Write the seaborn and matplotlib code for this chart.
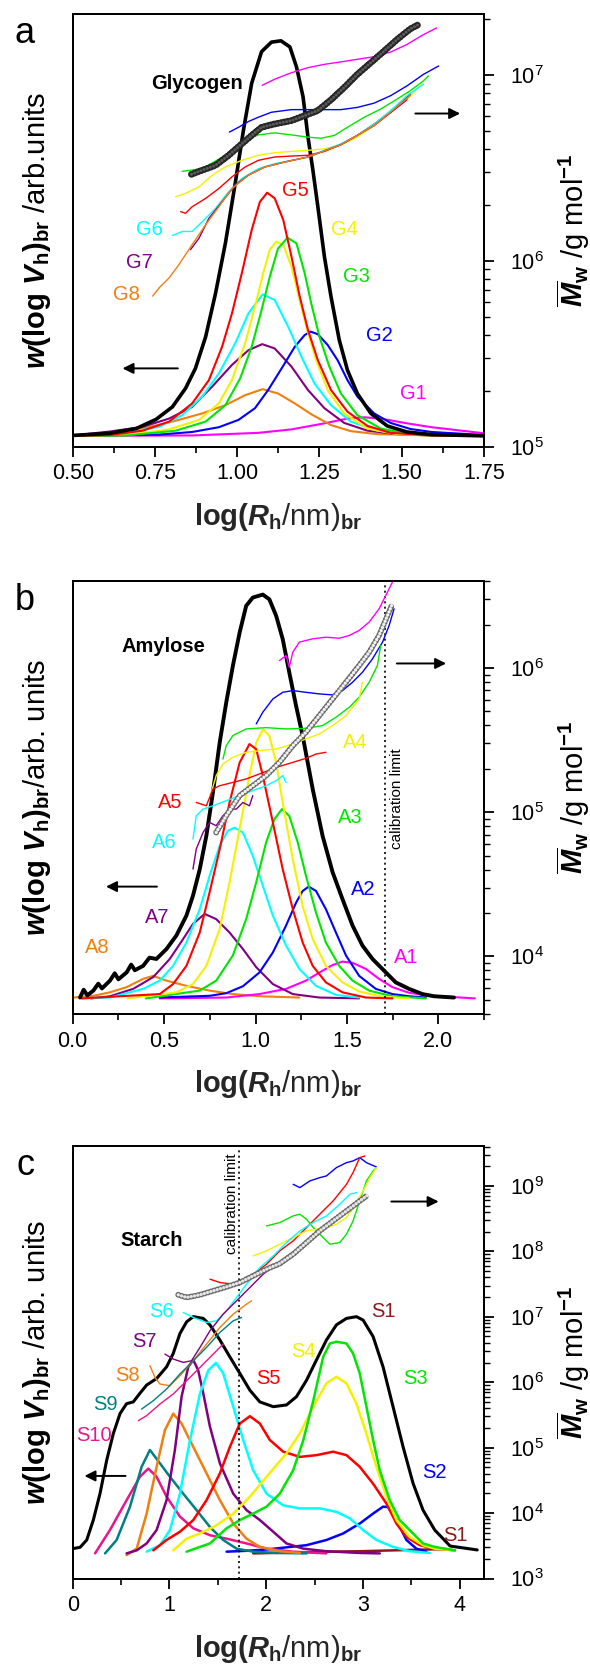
import numpy as np
import matplotlib
matplotlib.use("Agg")
import matplotlib.pyplot as plt
import seaborn as sns
from matplotlib.ticker import MultipleLocator, LogLocator, NullFormatter, FormatStrFormatter

# ---------------- panel a : glycogen ----------------
a_black_x = [0.500, 0.612, 0.693, 0.753, 0.803, 0.843, 0.873, 0.904, 0.934, 0.964, 0.994, 1.019, 1.044, 1.074, 1.104,
             1.133, 1.160, 1.180, 1.200, 1.215, 1.230, 1.245, 1.265, 1.285, 1.310, 1.335, 1.365, 1.406, 1.456, 1.516, 1.591, 1.750]
a_black_v = [2.6, 3.1, 4.2, 6.3, 9.2, 13.5, 18.1, 25.4, 35.4, 47.0, 60.9, 73.2, 84.0, 91.3, 93.5,
             93.8, 92.4, 87.8, 80.9, 71.6, 63.9, 55.5, 43.9, 34.7, 24.7, 17.7, 12.3, 7.7, 4.8, 3.4, 2.8, 2.5]
a_g5_x = [0.500, 0.612, 0.713, 0.793, 0.863, 0.914, 0.954, 0.984, 1.014, 1.044, 1.069, 1.091, 1.114, 1.140, 1.165, 1.190,
          1.215, 1.245, 1.285, 1.335, 1.396, 1.466, 1.591, 1.750]
a_g5_v = [2.5, 2.7, 3.7, 5.8, 10.0, 15.4, 23.1, 30.8, 40.1, 50.1, 56.6, 58.7, 57.4, 52.4, 43.9, 34.7,
          27.0, 20.0, 13.1, 8.1, 4.8, 3.2, 2.6, 2.5]
a_g4_x = [0.500, 0.663, 0.793, 0.884, 0.944, 0.984, 1.024, 1.054, 1.079, 1.099, 1.119, 1.140, 1.165, 1.185, 1.210, 1.240,
          1.275, 1.325, 1.396, 1.486, 1.591, 1.750]
a_g4_v = [2.5, 2.7, 4.0, 6.2, 10.0, 15.4, 23.9, 32.4, 40.1, 45.5, 47.4, 46.6, 41.6, 35.4, 27.7, 20.0,
          13.1, 7.7, 4.2, 2.9, 2.6, 2.5]
a_g3_x = [0.500, 0.663, 0.813, 0.904, 0.964, 1.009, 1.044, 1.074, 1.099, 1.124, 1.153, 1.180, 1.205, 1.225, 1.250, 1.280,
          1.315, 1.365, 1.436, 1.526, 1.591, 1.750]
a_g3_v = [2.5, 2.6, 3.7, 5.8, 9.6, 15.8, 23.1, 31.6, 39.3, 45.8, 48.3, 47.0, 40.1, 33.1, 25.4, 18.5,
          12.3, 7.3, 4.2, 2.9, 2.6, 2.5]
a_g6_x = [0.500, 0.663, 0.763, 0.833, 0.894, 0.944, 0.994, 1.034, 1.077, 1.114, 1.155, 1.195, 1.235, 1.285, 1.345, 1.426,
          1.526, 1.591, 1.750]
a_g6_v = [2.6, 3.2, 4.6, 7.3, 11.6, 16.9, 23.9, 30.8, 35.2, 33.9, 27.7, 20.8, 14.6, 9.6, 5.8, 3.7, 2.9, 2.6, 2.5]
a_g7_x = [0.500, 0.612, 0.713, 0.793, 0.863, 0.924, 0.984, 1.034, 1.076, 1.114, 1.165, 1.215, 1.265, 1.325, 1.396, 1.486,
          1.591, 1.750]
a_g7_v = [2.6, 3.5, 4.6, 6.5, 9.2, 13.9, 18.9, 22.3, 23.7, 22.7, 18.5, 13.1, 8.9, 5.5, 3.7, 2.9, 2.6, 2.5]
a_g8_x = [0.500, 0.612, 0.713, 0.813, 0.894, 0.964, 1.024, 1.077, 1.124, 1.175, 1.225, 1.285, 1.345, 1.426, 1.591, 1.750]
a_g8_v = [2.6, 3.2, 4.2, 6.0, 7.7, 9.6, 11.9, 13.3, 12.3, 10.0, 7.5, 5.0, 3.6, 2.9, 2.6, 2.5]
a_g2_x = [0.500, 0.763, 0.863, 0.944, 1.004, 1.054, 1.094, 1.135, 1.175, 1.205, 1.223, 1.245, 1.275, 1.305, 1.335, 1.365,
          1.416, 1.466, 1.526, 1.591, 1.750]
a_g2_v = [2.5, 2.8, 3.4, 4.5, 6.2, 8.9, 13.1, 18.1, 23.1, 25.8, 26.6, 26.0, 23.5, 20.0, 15.4, 11.6,
          7.7, 5.5, 4.1, 3.4, 2.7]
a_g1_x = [0.500, 0.863, 1.064, 1.165, 1.265, 1.335, 1.386, 1.436, 1.516, 1.591, 1.750]
a_g1_v = [2.5, 2.6, 3.2, 4.0, 5.4, 6.5, 6.8, 6.5, 5.4, 4.5, 3.1]

# Mw traces (log10 of g/mol)
a_mw_all_x = [0.861, 0.894, 0.934, 0.974, 1.014, 1.049, 1.074, 1.114, 1.165, 1.205, 1.245, 1.285, 1.325, 1.365, 1.406,
              1.446, 1.486, 1.526, 1.551]
a_mw_all = [6.467, 6.489, 6.515, 6.569, 6.631, 6.684, 6.720, 6.738, 6.756, 6.783, 6.810, 6.868, 6.934, 7.005, 7.068,
            7.130, 7.193, 7.250, 7.273]
a_mw1_x = [1.076, 1.114, 1.165, 1.215, 1.265, 1.315, 1.365, 1.416, 1.466, 1.516, 1.566, 1.606]
a_mw1 = [6.946, 6.979, 7.014, 7.041, 7.059, 7.072, 7.086, 7.100, 7.125, 7.166, 7.219, 7.255]
a_mw2_x = [0.976, 1.004, 1.034, 1.064, 1.104, 1.165, 1.225, 1.265, 1.315, 1.365, 1.416, 1.466, 1.516, 1.566, 1.612]
a_mw2 = [6.694, 6.720, 6.751, 6.774, 6.801, 6.815, 6.815, 6.815, 6.815, 6.827, 6.850, 6.890, 6.943, 7.005, 7.050]
a_mw3_x = [0.833, 0.894, 0.964, 1.024, 1.064, 1.114, 1.165, 1.215, 1.255, 1.295, 1.335, 1.386, 1.436, 1.486, 1.526,
           1.566, 1.581]
a_mw3 = [6.483, 6.497, 6.569, 6.649, 6.679, 6.690, 6.679, 6.667, 6.661, 6.676, 6.720, 6.774, 6.818, 6.872, 6.917,
         6.970, 6.997]
a_mw4_x = [0.813, 0.843, 0.884, 0.924, 0.964, 1.014, 1.064, 1.114, 1.165, 1.215, 1.265, 1.315, 1.365, 1.416, 1.466,
           1.516, 1.561]
a_mw4 = [6.346, 6.364, 6.399, 6.462, 6.506, 6.542, 6.569, 6.583, 6.590, 6.596, 6.604, 6.626, 6.667, 6.729, 6.801,
         6.872, 6.952]
a_mw5_x = [0.828, 0.843, 0.863, 0.904, 0.944, 0.984, 1.024, 1.064, 1.114, 1.165, 1.215, 1.265, 1.315, 1.365, 1.416,
           1.466, 1.526]
a_mw5 = [6.266, 6.257, 6.292, 6.337, 6.390, 6.453, 6.506, 6.542, 6.560, 6.565, 6.569, 6.590, 6.626, 6.676, 6.738,
         6.801, 6.898]
a_mw6_x = [0.803, 0.833, 0.863, 0.894, 0.934, 0.974, 1.014, 1.064, 1.114, 1.165, 1.215, 1.265, 1.315, 1.365, 1.416,
           1.466, 1.516, 1.566]
a_mw6 = [6.137, 6.159, 6.159, 6.212, 6.283, 6.373, 6.444, 6.497, 6.524, 6.542, 6.560, 6.596, 6.631, 6.676, 6.738,
         6.810, 6.890, 6.952]
a_mw7_x = [0.858, 0.884, 0.914, 0.954, 0.994, 1.034, 1.084, 1.145, 1.215, 1.315, 1.416, 1.516]
a_mw7 = [6.061, 6.123, 6.230, 6.319, 6.409, 6.462, 6.506, 6.533, 6.560, 6.626, 6.729, 6.868]
a_mw8_x = [0.743, 0.763, 0.793, 0.823, 0.863, 0.904, 0.944, 0.984, 1.034, 1.084, 1.145, 1.215, 1.315, 1.416, 1.526]
a_mw8 = [5.811, 5.856, 5.909, 5.981, 6.088, 6.195, 6.292, 6.390, 6.462, 6.506, 6.533, 6.560, 6.626, 6.729, 6.890]

# ---------------- panel b : amylose ----------------
b_black_x = [0.040, 0.060, 0.080, 0.113, 0.140, 0.160, 0.204, 0.230, 0.250, 0.295, 0.320, 0.340, 0.385, 0.420, 0.458,
             0.513, 0.567, 0.622, 0.658, 0.695, 0.731, 0.767, 0.804, 0.840, 0.876, 0.913, 0.949, 0.985, 1.040, 1.076,
             1.113, 1.149, 1.185, 1.222, 1.258, 1.313, 1.367, 1.422, 1.476, 1.531, 1.585, 1.640, 1.713, 1.767, 1.840,
             1.913, 1.976, 2.086]
b_black_v = [3.8, 5.6, 4.3, 5.4, 7.0, 5.9, 7.7, 9.4, 8.0, 9.6, 11.4, 10.1, 11.1, 13.0, 12.7,
             15.0, 18.1, 22.7, 27.3, 33.4, 41.1, 51.1, 62.6, 71.9, 80.3, 88.0, 94.2, 96.1, 96.8, 95.7,
             91.9, 86.5, 78.8, 71.1, 64.2, 51.9, 41.1, 32.7, 26.5, 20.4, 15.8, 12.7, 9.6, 7.3, 5.8,
             4.6, 4.1, 3.8]
b_a5_x = [0.050, 0.476, 0.549, 0.622, 0.695, 0.749, 0.804, 0.858, 0.913, 0.967, 1.004, 1.040, 1.095, 1.149, 1.204,
          1.258, 1.313, 1.385, 1.476, 1.604, 1.749]
b_a5_v = [3.6, 4.6, 6.9, 11.1, 18.8, 28.1, 38.0, 48.8, 58.0, 62.3, 61.1, 55.0, 44.2, 33.4, 24.2,
          16.5, 11.1, 7.3, 5.0, 3.8, 3.6]
b_a4_x = [0.300, 0.567, 0.658, 0.731, 0.804, 0.858, 0.913, 0.967, 1.004, 1.040, 1.076, 1.113, 1.149, 1.204, 1.258,
          1.313, 1.385, 1.476, 1.567, 1.695, 1.840]
b_a4_v = [3.6, 5.0, 6.9, 11.1, 19.6, 30.4, 42.7, 55.0, 62.6, 65.7, 64.2, 58.0, 48.8, 35.7, 24.9,
          17.3, 11.1, 7.3, 5.2, 4.0, 3.6]
b_a3_x = [0.400, 0.695, 0.785, 0.876, 0.949, 1.004, 1.058, 1.104, 1.145, 1.185, 1.231, 1.276, 1.331, 1.385, 1.458,
          1.531, 1.622, 1.749, 1.931]
b_a3_v = [3.6, 5.4, 7.7, 13.5, 21.9, 30.4, 39.6, 45.0, 47.3, 45.7, 39.6, 31.9, 23.4, 16.5, 11.1,
          7.7, 5.4, 4.1, 3.6]
b_a6_x = [0.050, 0.204, 0.385, 0.476, 0.549, 0.622, 0.695, 0.749, 0.804, 0.849, 0.885, 0.931, 0.985, 1.040, 1.095,
          1.167, 1.240, 1.331, 1.440, 1.567]
b_a6_v = [3.6, 3.8, 5.8, 7.7, 11.1, 16.5, 24.2, 31.9, 38.8, 42.3, 43.0, 41.9, 36.5, 29.6, 22.7,
          15.8, 10.4, 6.5, 4.4, 3.8]
b_a7_x = [0.100, 0.204, 0.331, 0.440, 0.531, 0.604, 0.658, 0.722, 0.785, 0.858, 0.931, 1.004, 1.095, 1.204, 1.349, 1.567]
b_a7_v = [3.6, 4.1, 5.8, 8.5, 12.7, 17.3, 20.8, 23.1, 21.9, 18.8, 15.0, 10.8, 6.9, 4.6, 3.8, 3.6]
b_a8_x = [0.004, 0.113, 0.204, 0.295, 0.385, 0.440, 0.513, 0.622, 0.749, 0.876, 1.022, 1.240]
b_a8_v = [3.8, 4.2, 5.0, 6.2, 8.1, 8.8, 7.7, 6.5, 5.4, 4.6, 4.1, 3.8]
b_a2_x = [0.476, 0.749, 0.840, 0.931, 1.022, 1.095, 1.167, 1.222, 1.258, 1.291, 1.331, 1.385, 1.440, 1.495, 1.567,
          1.658, 1.749, 1.840, 1.931]
b_a2_v = [3.8, 4.2, 4.8, 6.4, 9.6, 14.2, 20.4, 25.7, 28.4, 29.4, 28.4, 24.2, 18.8, 13.5, 8.8,
          5.8, 4.6, 4.1, 3.8]
b_a1_x = [0.476, 0.840, 1.022, 1.167, 1.276, 1.367, 1.422, 1.476, 1.531, 1.604, 1.676, 1.749, 1.840, 1.931, 2.200]
b_a1_v = [3.6, 3.8, 4.6, 5.8, 7.7, 10.0, 11.3, 12.1, 11.8, 10.4, 8.1, 6.2, 4.9, 4.3, 3.6]

b_mw_all_x = [0.785, 0.840, 0.913, 0.985, 1.058, 1.131, 1.204, 1.276, 1.349, 1.422, 1.495, 1.567, 1.622, 1.676, 1.722, 1.749]
b_mw_all = [4.860, 4.976, 5.115, 5.184, 5.254, 5.346, 5.462, 5.555, 5.670, 5.786, 5.902, 6.018, 6.110, 6.226, 6.365, 6.446]
b_mw1_x = [1.131, 1.167, 1.185, 1.204, 1.240, 1.313, 1.385, 1.458, 1.513, 1.567, 1.622, 1.676, 1.731, 1.749]
b_mw1 = [6.052, 6.087, 6.006, 6.110, 6.180, 6.203, 6.214, 6.207, 6.226, 6.261, 6.319, 6.411, 6.550, 6.596]
b_mw2_x = [1.004, 1.040, 1.095, 1.149, 1.204, 1.276, 1.349, 1.422, 1.476, 1.531, 1.585, 1.640, 1.695, 1.731, 1.758]
b_mw2 = [5.613, 5.694, 5.786, 5.832, 5.844, 5.832, 5.821, 5.814, 5.844, 5.902, 5.971, 6.064, 6.180, 6.295, 6.411]
b_mw3_x = [0.822, 0.840, 0.876, 0.949, 1.058, 1.167, 1.276, 1.367, 1.440, 1.513, 1.567, 1.622, 1.667, 1.685]
b_mw3 = [5.369, 5.462, 5.532, 5.578, 5.587, 5.578, 5.582, 5.601, 5.659, 5.728, 5.798, 5.902, 6.018, 6.157]
b_mw4_x = [0.758, 0.785, 0.822, 0.876, 0.949, 1.022, 1.113, 1.204, 1.276, 1.349, 1.422, 1.495, 1.567, 1.585]
b_mw4 = [5.138, 5.254, 5.335, 5.381, 5.416, 5.427, 5.439, 5.474, 5.509, 5.543, 5.601, 5.670, 5.786, 5.902]
b_mw5_x = [0.676, 0.731, 0.767, 0.804, 0.876, 0.949, 1.022, 1.113, 1.204, 1.276, 1.331, 1.385]
b_mw5 = [5.068, 5.045, 5.161, 5.184, 5.207, 5.231, 5.266, 5.311, 5.346, 5.374, 5.404, 5.416]
b_mw6_x = [0.658, 0.676, 0.713, 0.767, 0.840, 0.913, 0.985, 1.058, 1.113, 1.149, 1.167]
b_mw6 = [4.814, 4.976, 5.022, 5.045, 5.080, 5.115, 5.150, 5.184, 5.219, 5.254, 5.207]
b_mw7_x = [0.658, 0.676, 0.713, 0.749, 0.785, 0.822, 0.858, 0.895, 0.931, 0.967, 0.985]
b_mw7 = [4.606, 4.745, 4.860, 4.929, 4.907, 4.976, 5.022, 5.022, 5.068, 5.045, 5.115]

# ---------------- panel c : starch ----------------
c_black_x = [0.000, 0.076, 0.145, 0.213, 0.282, 0.351, 0.420, 0.489, 0.557, 0.626, 0.695, 0.764, 0.867, 0.970, 1.039,
             1.108, 1.177, 1.246, 1.349, 1.418, 1.521, 1.624, 1.727, 1.831, 1.934, 2.072, 2.209, 2.312, 2.416, 2.519,
             2.622, 2.725, 2.829, 2.932, 3.001, 3.104, 3.207, 3.310, 3.414, 3.517, 3.620, 3.741, 3.900, 4.180]
c_black_v = [6.9, 7.2, 8.9, 13.5, 19.6, 27.3, 33.5, 38.1, 40.4, 40.8, 42.8, 44.7, 46.2, 48.9, 52.0,
             56.6, 59.3, 60.5, 60.1, 58.6, 55.1, 51.2, 47.4, 43.5, 40.8, 39.7, 40.1, 42.0, 45.8, 50.5,
             55.1, 58.6, 60.1, 60.5, 59.7, 55.9, 48.9, 39.7, 30.4, 22.0, 15.8, 11.2, 7.5, 6.6]
c_s3_x = [1.177, 1.418, 1.590, 1.727, 1.865, 2.003, 2.140, 2.278, 2.381, 2.485, 2.588, 2.657, 2.725, 2.829, 2.897,
          2.966, 3.035, 3.104, 3.173, 3.276, 3.379, 3.517, 3.620, 3.741, 3.950]
c_s3_v = [6.2, 8.1, 11.6, 13.5, 15.0, 16.6, 19.6, 25.0, 31.8, 41.0, 51.2, 54.3, 54.7, 54.3, 52.0,
          47.4, 39.7, 32.0, 25.0, 18.1, 13.5, 10.4, 8.1, 7.3, 6.5]
c_s4_x = [1.039, 1.177, 1.315, 1.487, 1.659, 1.831, 2.003, 2.209, 2.347, 2.485, 2.622, 2.725, 2.829, 2.932, 3.035,
          3.138, 3.242, 3.345, 3.482, 3.620, 3.741, 3.950]
c_s4_v = [6.5, 9.2, 10.4, 12.3, 15.0, 18.9, 23.5, 28.9, 33.5, 39.7, 45.1, 46.6, 45.1, 40.4, 33.5,
          25.8, 18.9, 13.5, 9.6, 7.7, 6.9, 6.5]
c_s5_x = [0.833, 0.970, 1.108, 1.246, 1.383, 1.521, 1.624, 1.727, 1.831, 1.934, 2.037, 2.175, 2.347, 2.519, 2.691,
          2.829, 2.966, 3.104, 3.242, 3.345, 3.448, 3.586, 3.741, 3.950]
c_s5_v = [6.5, 8.9, 10.8, 13.5, 18.1, 24.3, 30.4, 35.8, 37.5, 35.8, 32.0, 29.3, 28.1, 28.5, 29.3,
          28.5, 25.8, 21.9, 17.3, 12.7, 9.6, 7.7, 6.9, 6.5]
c_s6_x = [0.764, 0.902, 1.005, 1.108, 1.211, 1.315, 1.401, 1.480, 1.555, 1.659, 1.762, 1.865, 2.003, 2.175, 2.347,
          2.553, 2.725, 2.863, 3.001, 3.138, 3.310, 3.482, 3.689]
c_s6_v = [6.2, 7.7, 11.2, 19.6, 31.9, 42.7, 48.1, 49.8, 47.4, 39.7, 32.0, 25.0, 19.6, 16.9, 16.2,
          16.2, 15.4, 13.9, 11.2, 8.9, 7.3, 6.3, 5.9]
c_s7_x = [0.557, 0.661, 0.764, 0.867, 0.970, 1.056, 1.125, 1.194, 1.246, 1.297, 1.349, 1.418, 1.521, 1.659, 1.796,
          1.934, 2.072, 2.209, 2.381, 2.622, 2.966, 3.173]
c_s7_v = [5.8, 6.5, 8.1, 11.2, 18.1, 29.7, 42.0, 48.9, 50.5, 48.1, 42.8, 35.1, 26.6, 19.6, 15.8,
          13.5, 10.8, 8.1, 6.9, 6.3, 5.9, 5.8]
c_s8_x = [0.557, 0.661, 0.764, 0.867, 0.953, 1.039, 1.125, 1.246, 1.383, 1.521, 1.659, 1.796, 1.934, 2.140, 2.347]
c_s8_v = [5.4, 6.9, 15.0, 25.8, 34.3, 38.1, 35.8, 30.4, 24.3, 18.1, 12.7, 9.2, 7.3, 6.3, 5.9]
c_s9_x = [0.334, 0.454, 0.592, 0.712, 0.798, 0.902, 1.005, 1.142, 1.280, 1.418, 1.555, 1.693, 1.865, 2.106, 2.416]
c_s9_v = [5.8, 8.9, 16.6, 25.8, 29.7, 26.6, 23.5, 19.6, 15.8, 11.9, 8.9, 6.9, 6.2, 5.9, 5.8]
c_s10_x = [0.231, 0.385, 0.557, 0.695, 0.781, 0.867, 0.970, 1.108, 1.246, 1.418, 1.590, 1.796, 2.003, 2.278, 2.622]
c_s10_v = [5.8, 11.2, 18.1, 23.5, 25.4, 23.5, 18.9, 14.3, 11.6, 10.0, 9.2, 8.1, 6.9, 6.2, 5.8]
c_s2_x = [1.590, 1.796, 2.003, 2.209, 2.416, 2.622, 2.794, 2.966, 3.104, 3.207, 3.259, 3.345, 3.448, 3.551, 3.655]
c_s2_v = [6.2, 6.4, 6.7, 7.2, 7.7, 8.9, 10.4, 12.7, 15.0, 16.6, 16.5, 13.5, 8.9, 6.9, 6.2]
c_s1_x = [1.865, 2.278, 2.622, 2.966, 3.310, 3.655, 3.850]
c_s1_v = [5.8, 6.0, 6.2, 6.3, 6.5, 6.7, 6.8]

c_mw_all_x = [1.091, 1.177, 1.315, 1.452, 1.590, 1.727, 1.865, 2.003, 2.140, 2.278, 2.416, 2.553, 2.691, 2.829, 2.966, 3.052]
c_mw_all = [7.336, 7.295, 7.336, 7.397, 7.458, 7.524, 7.626, 7.728, 7.814, 7.957, 8.135, 8.313, 8.466, 8.618, 8.771, 8.863]
c_mw2_x = [2.278, 2.347, 2.450, 2.553, 2.622, 2.725, 2.829, 2.897, 2.966, 3.035, 3.138]
c_mw2 = [9.025, 8.974, 9.076, 9.127, 9.153, 9.280, 9.356, 9.382, 9.433, 9.356, 9.290]
c_mw5_x = [1.418, 1.521, 1.659, 1.745, 1.865, 2.003, 2.140, 2.278, 2.416, 2.553, 2.691, 2.829, 2.897, 2.966, 3.018]
c_mw5 = [7.575, 7.524, 7.499, 7.550, 7.651, 7.804, 8.008, 8.160, 8.364, 8.568, 8.771, 9.025, 9.204, 9.433, 9.458]
c_mw3_x = [2.003, 2.140, 2.278, 2.347, 2.416, 2.485, 2.588, 2.657, 2.760, 2.829, 2.897, 2.966, 3.035, 3.104, 3.138]
c_mw3 = [8.389, 8.440, 8.542, 8.568, 8.491, 8.364, 8.211, 8.109, 8.135, 8.262, 8.466, 8.771, 9.076, 9.229, 9.280]
c_mw4_x = [1.865, 2.003, 2.140, 2.278, 2.416, 2.519, 2.622, 2.725, 2.829, 2.897, 3.001, 3.070, 3.138]
c_mw4 = [7.931, 8.008, 8.109, 8.211, 8.313, 8.338, 8.364, 8.415, 8.517, 8.669, 8.924, 9.127, 9.280]
c_mw6_x = [1.142, 1.246, 1.383, 1.487, 1.590, 1.693, 1.796, 1.934, 2.072, 2.209, 2.347, 2.485, 2.622, 2.760, 2.863, 2.932]
c_mw6 = [7.066, 6.990, 6.913, 6.939, 7.092, 7.295, 7.499, 7.753, 7.931, 8.135, 8.313, 8.440, 8.542, 8.720, 8.873, 8.898]
c_mw7_x = [0.953, 1.039, 1.142, 1.228, 1.315, 1.418, 1.555, 1.693, 1.831, 1.968, 2.106, 2.244, 2.347]
c_mw7 = [6.430, 6.354, 6.303, 6.328, 6.532, 6.786, 7.041, 7.244, 7.448, 7.651, 7.804, 7.957, 8.059]
c_mw8_x = [0.798, 0.850, 0.902, 1.005, 1.108, 1.246, 1.383, 1.521, 1.659, 1.796, 1.848]
c_mw8 = [6.252, 6.074, 5.972, 5.947, 6.099, 6.328, 6.583, 6.837, 7.041, 7.193, 7.244]
c_mw9_x = [0.712, 0.833, 0.970, 1.108, 1.246, 1.383, 1.521, 1.659, 1.745]
c_mw9 = [5.590, 5.718, 5.896, 6.125, 6.328, 6.532, 6.761, 6.939, 6.990]
c_mw10_x = [0.678, 0.764, 0.902, 1.039, 1.177, 1.315, 1.452, 1.555]
c_mw10 = [5.412, 5.489, 5.667, 5.820, 6.023, 6.226, 6.430, 6.583]

# colours
RED, YEL, GRN, CYA = "#ff0000", "#f2f200", "#00e600", "#00ffff"
PUR, ORA, BLU, MAG = "#800080", "#f07f10", "#0000ff", "#ff00ff"
TEAL, PINK, DRED = "#008080", "#e8168a", "#8b1a1a"

sns.set_style("ticks")
plt.rcParams["font.family"] = ["Liberation Sans", "DejaVu Sans"]
plt.rcParams.update({
    "mathtext.fontset": "custom",
    "mathtext.rm": "Liberation Sans:bold",
    "mathtext.bf": "Liberation Sans:bold",
    "mathtext.it": "Liberation Sans:italic:bold",
    "axes.edgecolor": "black",
    "axes.linewidth": 1.4,
    "xtick.color": "black",
    "ytick.color": "black",
    "text.color": "black",
})


def dist(ax, x, v, color, lw=1.5):
    sns.lineplot(x=x, y=v, ax=ax, color=color, lw=lw, sort=False, estimator=None, legend=False)


def mw(ax, x, logm, color, lw=1.0):
    sns.lineplot(x=x, y=np.power(10.0, logm), ax=ax, color=color, lw=lw, sort=False, estimator=None, legend=False)


def chain(ax, x, logm, edge, face, outer=4.3, inner=2.4):
    # overlapping open circles along the averaged Mw trace
    y = np.power(10.0, logm)
    step = 2.4
    ax.plot(x, y, color=edge, lw=outer, ls=(0, (0.01, step / outer)), dash_capstyle="round")
    ax.plot(x, y, color=face, lw=inner, ls=(0, (0.01, step / inner)), dash_capstyle="round")


def frame(ax, ax2, xlim, major, minor, fmt, ylog):
    ax.set_xlim(*xlim)
    ax.set_ylim(0, 100)
    ax.set_yticks([])
    ax.xaxis.set_major_locator(MultipleLocator(major))
    ax.xaxis.set_minor_locator(MultipleLocator(minor))
    ax.xaxis.set_major_formatter(FormatStrFormatter(fmt))
    ax.tick_params(axis="x", which="major", direction="out", length=7, width=1.3, labelsize=15.5, pad=5)
    ax.tick_params(axis="x", which="minor", direction="out", length=4, width=1.2)
    ax2.set_yscale("log")
    ax2.set_ylim(10 ** ylog[0], 10 ** ylog[1])
    ax2.yaxis.set_major_locator(LogLocator(base=10, subs=(1.0,), numticks=20))
    ax2.yaxis.set_minor_locator(LogLocator(base=10, subs=np.arange(2, 10), numticks=20))
    ax2.yaxis.set_minor_formatter(NullFormatter())
    ax2.tick_params(axis="y", which="major", direction="out", length=7, width=1.3, labelsize=15.5, pad=12)
    ax2.tick_params(axis="y", which="minor", direction="out", length=4, width=1.0)
    ax.set_xlabel(r"$\mathrm{log(}R_\mathrm{h}$/nm)$_\mathrm{br}$", fontsize=21, labelpad=12)
    for s in ax.spines.values():
        s.set_visible(True)


def arrow(ax, x0, x1, v):
    ax.annotate("", xy=(x1, v), xytext=(x0, v),
                arrowprops=dict(arrowstyle="-|>", color="black", lw=1.4, mutation_scale=16))


fig = plt.figure(figsize=(5.9, 16.75), dpi=100)
W, H = 590.0, 1675.0
L, R = 72.7, 484.0
tops = [14.0, 580.7, 1145.7]
bots = [446.7, 1014.0, 1578.5]
axes = []
for t, b in zip(tops, bots):
    ax = fig.add_axes([L / W, 1 - b / H, (R - L) / W, (b - t) / H])
    ax2 = ax.twinx()
    axes.append((ax, ax2))

lab = dict(fontsize=14.5, va="center", ha="left")
ylab_l = [r"$w\mathrm{(log}\ V_\mathrm{h})_\mathrm{br}$ /arb.units",
          r"$w\mathrm{(log}\ V_\mathrm{h})_\mathrm{br}$/arb. units",
          r"$w\mathrm{(log}\ V_\mathrm{h})_\mathrm{br}$ /arb. units"]
ylab_r = r"$\overline{M}_\mathrm{w}$ /g mol$^{-1}$"

# panel a
ax, ax2 = axes[0]
for x, v, c in [(a_g1_x, a_g1_v, MAG), (a_g8_x, a_g8_v, ORA), (a_g7_x, a_g7_v, PUR), (a_g2_x, a_g2_v, BLU),
                (a_g6_x, a_g6_v, CYA), (a_g4_x, a_g4_v, YEL), (a_g3_x, a_g3_v, GRN), (a_g5_x, a_g5_v, RED)]:
    dist(ax, x, v, c)
dist(ax, a_black_x, a_black_v, "black", lw=2.6)
for x, m, c in [(a_mw1_x, a_mw1, MAG), (a_mw2_x, a_mw2, BLU), (a_mw3_x, a_mw3, GRN), (a_mw4_x, a_mw4, YEL),
                (a_mw5_x, a_mw5, RED), (a_mw6_x, a_mw6, CYA), (a_mw7_x, a_mw7, PUR), (a_mw8_x, a_mw8, ORA)]:
    mw(ax2, x, m, c)
chain(ax2, a_mw_all_x, a_mw_all, "#262626", "#5a5a5a", outer=5.0, inner=2.2)
frame(ax, ax2, (0.5, 1.75), 0.25, 0.125, "%.2f", (5.0, 7.33))
ax.text(0.738, 84.0, "Glycogen", fontweight="bold", **lab)
for s, x, v, c in [("G5", 1.135, 59.3, RED), ("G4", 1.285, 50.1, YEL), ("G3", 1.320, 39.3, GRN),
                   ("G2", 1.391, 25.6, BLU), ("G1", 1.496, 12.3, MAG), ("G6", 0.693, 50.2, CYA),
                   ("G7", 0.663, 42.5, PUR), ("G8", 0.622, 35.1, ORA)]:
    ax.text(x, v, s, color=c, **lab)
arrow(ax, 0.828, 0.643, 18.1)
arrow(ax, 1.533, 1.686, 77.0)

# panel b
ax, ax2 = axes[1]
for x, v, c in [(b_a8_x, b_a8_v, ORA), (b_a1_x, b_a1_v, MAG), (b_a7_x, b_a7_v, PUR), (b_a2_x, b_a2_v, BLU),
                (b_a6_x, b_a6_v, CYA), (b_a3_x, b_a3_v, GRN), (b_a4_x, b_a4_v, YEL), (b_a5_x, b_a5_v, RED)]:
    dist(ax, x, v, c)
dist(ax, b_black_x, b_black_v, "black", lw=2.8)
ax.axvline(1.71, color="black", lw=1.2, ls=(0, (1.2, 2.0)))
for x, m, c in [(b_mw1_x, b_mw1, MAG), (b_mw2_x, b_mw2, BLU), (b_mw3_x, b_mw3, GRN), (b_mw4_x, b_mw4, YEL),
                (b_mw5_x, b_mw5, RED), (b_mw6_x, b_mw6, CYA), (b_mw7_x, b_mw7, PUR)]:
    mw(ax2, x, m, c)
chain(ax2, b_mw_all_x, b_mw_all, "#6a6a6a", "#f2f2f2")
frame(ax, ax2, (0.0, 2.25), 0.5, 0.25, "%.1f", (3.601, 6.606))
ax.text(0.267, 84.9, "Amylose", fontweight="bold", **lab)
for s, x, v, c in [("A5", 0.467, 48.8, RED), ("A4", 1.476, 62.6, YEL), ("A3", 1.449, 45.3, GRN),
                   ("A6", 0.431, 39.6, CYA), ("A2", 1.522, 28.8, BLU), ("A7", 0.395, 22.3, PUR),
                   ("A8", 0.067, 15.4, ORA), ("A1", 1.758, 13.1, MAG)]:
    ax.text(x, v, s, color=c, **lab)
ax.text(1.776, 49.6, "calibration limit", rotation=90, fontsize=11, ha="center", va="center")
arrow(ax, 0.476, 0.167, 29.4)
arrow(ax, 1.758, 2.058, 80.9)

# panel c
ax, ax2 = axes[2]
for x, v, c in [(c_s1_x, c_s1_v, DRED), (c_s2_x, c_s2_v, BLU), (c_s10_x, c_s10_v, PINK), (c_s9_x, c_s9_v, TEAL),
                (c_s8_x, c_s8_v, ORA), (c_s7_x, c_s7_v, PUR), (c_s6_x, c_s6_v, CYA), (c_s5_x, c_s5_v, RED),
                (c_s4_x, c_s4_v, YEL), (c_s3_x, c_s3_v, GRN)]:
    dist(ax, x, v, c, lw=1.8)
dist(ax, c_black_x, c_black_v, "black", lw=2.2)
ax.axvline(1.717, color="black", lw=1.2, ls=(0, (1.2, 2.0)))
for x, m, c in [(c_mw2_x, c_mw2, BLU), (c_mw5_x, c_mw5, RED), (c_mw3_x, c_mw3, GRN), (c_mw4_x, c_mw4, YEL),
                (c_mw6_x, c_mw6, CYA), (c_mw7_x, c_mw7, PUR), (c_mw8_x, c_mw8, ORA), (c_mw9_x, c_mw9, TEAL),
                (c_mw10_x, c_mw10, PINK)]:
    mw(ax2, x, m, c)
chain(ax2, c_mw_all_x, c_mw_all, "#6a6a6a", "#e6e6e6")
frame(ax, ax2, (0.0, 4.25), 1.0, 0.5, "%d", (3.0, 9.615))
ax.text(0.489, 78.2, "Starch", fontweight="bold", **lab)
for s, x, v, c in [("S6", 0.791, 61.6, CYA), ("S7", 0.619, 54.7, PUR), ("S8", 0.437, 47.0, ORA),
                   ("S9", 0.213, 40.1, TEAL), ("S10", 0.034, 33.1, PINK), ("S5", 1.900, 46.2, RED),
                   ("S4", 2.261, 52.4, YEL), ("S1", 3.087, 61.6, DRED), ("S3", 3.414, 46.2, GRN),
                   ("S2", 3.615, 24.5, BLU), ("S1", 3.830, 9.9, DRED)]:
    ax.text(x, v, s, color=c, **lab)
ax.text(1.641, 86.6, "calibration limit", rotation=90, fontsize=11, ha="center", va="center")
arrow(ax, 0.575, 0.093, 23.7)
arrow(ax, 3.264, 3.810, 87.1)

for i, (t, b) in enumerate(zip(tops, bots)):
    mid = 1 - (t + b) / 2 / H
    fig.text(37 / W, mid, ylab_l[i], rotation=90, fontsize=21, ha="center", va="center")
    fig.text(573 / W, mid, ylab_r, rotation=90, fontsize=21, ha="center", va="center")
    fig.text(25 / W, 1 - (t + 2) / H, "abc"[i], fontsize=26, ha="center", va="top")

fig.savefig("out.png", dpi=100)
